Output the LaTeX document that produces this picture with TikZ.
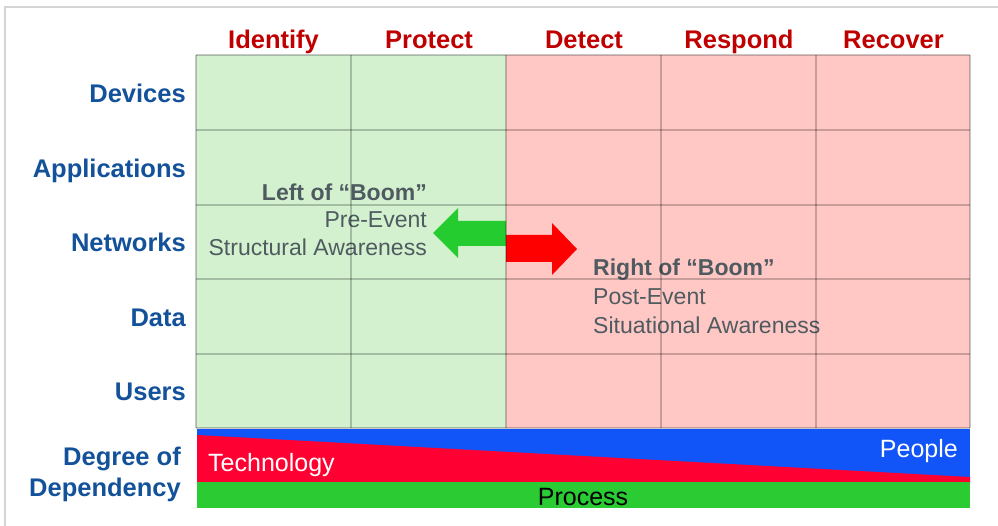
\documentclass[tikz,border=0pt]{standalone}
\usepackage{fontspec}
\setmainfont{Liberation Sans}
\definecolor{hdrred}{HTML}{C00000}
\definecolor{lblblue}{HTML}{13529A}
\definecolor{boomgray}{HTML}{4F5B60}
\definecolor{cellgreen}{HTML}{D3F1CF}
\definecolor{cellpink}{HTML}{FFC8C5}
\definecolor{arrgreen}{HTML}{25CC2F}
\definecolor{arrred}{HTML}{FF0000}
\definecolor{barblue}{HTML}{1155F8}
\definecolor{barred}{HTML}{FF0033}
\definecolor{bargreen}{HTML}{2ACB33}
\definecolor{framegray}{HTML}{D4D4D4}
\begin{document}
\begin{tikzpicture}[x=1pt,y=-1pt,
  hdr/.style={text=hdrred,font=\fontsize{25.5}{30}\selectfont\bfseries,inner sep=0pt,anchor=base},
  rowlbl/.style={text=lblblue,font=\fontsize{25.5}{30}\selectfont\bfseries,inner sep=0pt,anchor=base east},
  boomb/.style={text=boomgray,font=\fontsize{23}{28}\selectfont\bfseries,inner sep=0pt},
  boomr/.style={text=boomgray,font=\fontsize{23}{28}\selectfont,inner sep=0pt},
  bartxt/.style={font=\fontsize{25}{30}\selectfont,inner sep=0pt},
  gridline/.style={draw=black,draw opacity=0.22,line width=1.5pt}]
\useasboundingbox (0,0) rectangle (998,526);
\fill[white] (0,0) rectangle (998,526);
% frame
\draw[framegray,line width=2pt] (5,526) -- (5,7) -- (998,7);
% cells
\fill[cellgreen] (196,55) rectangle (506,428);
\fill[cellpink] (506,55) rectangle (970,428);
% headers
\node[hdr] (h1) at (273.5,48.5) {Identify};
\node[hdr] (h2) at (429,48.5) {Protect};
\node[hdr] (h3) at (584,48.5) {Detect};
\node[hdr] (h4) at (739,48.5) {Respond};
\node[hdr] (h5) at (893.5,48.5) {Recover};
% row labels
\node[rowlbl] (r1) at (186,103) {Devices};
\node[rowlbl] (r2) at (186,177.5) {Applications};
\node[rowlbl] (r3) at (186,252) {Networks};
\node[rowlbl] (r4) at (186,326.5) {Data};
\node[rowlbl] (r5) at (186,400.5) {Users};
\node[rowlbl] (r6) at (181,465) {Degree of};
\node[rowlbl] (r7) at (181,496) {Dependency};
% boom texts
\node[boomb,anchor=east] (lb1) at (427,192) {Left of “Boom”};
\node[boomr,anchor=east] (lb2) at (427,220) {Pre-Event};
\node[boomr,anchor=east] (lb3) at (427,247) {Structural Awareness};
\node[boomb,anchor=west] (rb1) at (593,270) {Right of “Boom”};
\node[boomr,anchor=west] (rb2) at (593,297) {Post-Event};
\node[boomr,anchor=west] (rb3) at (593,325) {Situational Awareness};
% arrows
\fill[arrgreen] (506,221) -- (458,221) -- (458,208) -- (433,233) -- (458,258) -- (458,246) -- (506,246) -- cycle;
\fill[arrred] (506,235) -- (552,235) -- (552,223) -- (577,249) -- (552,275) -- (552,262) -- (506,262) -- cycle;
% grid lines
\foreach \x in {196,351,506,661,816,970} \draw[gridline] (\x,55) -- (\x,428);
\foreach \y in {55,130,205,279,354,428} \draw[gridline] (196,\y) -- (970,\y);
% dependency bar
\fill[barblue] (197,429) rectangle (970,482);
\fill[barred] (197,435) -- (970,477) -- (970,482) -- (197,482) -- cycle;
\fill[bargreen] (197,482) rectangle (970,508);
\node[bartxt,text=white,anchor=west] (tech) at (208,465) {Technology};
\node[bartxt,text=white,anchor=east] (ppl) at (958,451) {People};
\node[bartxt,text=black] (proc) at (583,497) {Process};
\end{tikzpicture}
\end{document}
